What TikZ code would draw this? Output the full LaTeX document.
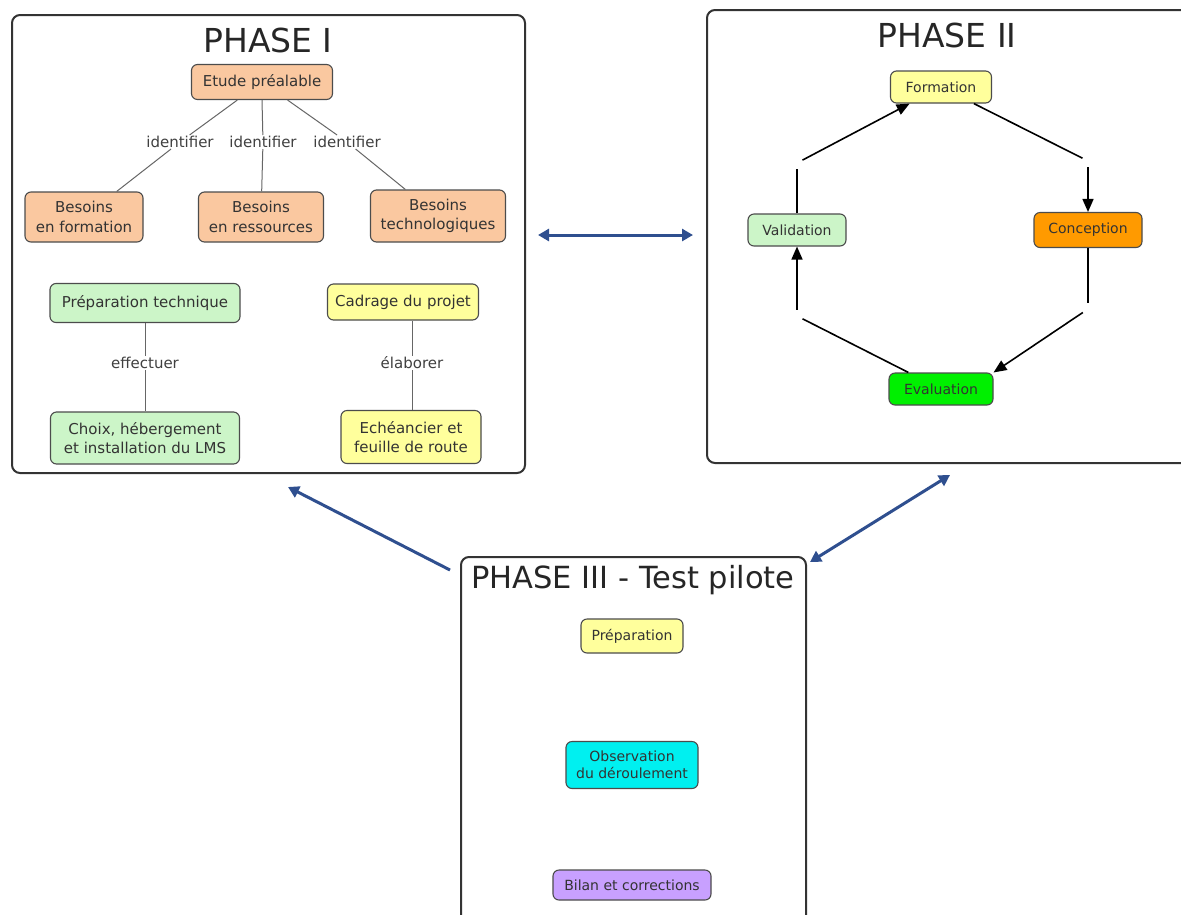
\documentclass[tikz,border=0pt]{standalone}
\usepackage{fontspec}
\setmainfont{DejaVu Sans}
\usetikzlibrary{arrows.meta}
\definecolor{peach}{HTML}{FAC8A0}
\definecolor{lgreen}{HTML}{CCF5C8}
\definecolor{lyellow}{HTML}{FFFF9C}
\definecolor{corange}{HTML}{FF9A00}
\definecolor{cgreen}{HTML}{00F000}
\definecolor{ccyan}{HTML}{00F0F0}
\definecolor{cviolet}{HTML}{C8A0FF}
\definecolor{frame}{HTML}{333333}
\definecolor{bluearr}{HTML}{2F4F8F}
\tikzset{
  phasebox/.style={draw=frame, line width=2pt, rounded corners=8pt, fill=white},
  title/.style={font=\fontsize{33}{37}\selectfont, text=black!85},
  concept/.style={draw=black!70, line width=1.1pt, rounded corners=6pt, align=center,
     font=\fontsize{15}{19.5}\selectfont, inner sep=0pt, text=black!80},
  small/.style={concept, font=\fontsize{14}{17}\selectfont},
  linklab/.style={font=\fontsize{15}{17}\selectfont, text=black!75, fill=white, inner sep=1pt},
  link/.style={draw=black!60, line width=1pt},
  cyc/.style={draw=black, line width=1.6pt},
  cycarr/.style={cyc, -{Triangle[length=13pt,width=11pt]}},
  gap/.style={circle, minimum size=12pt, inner sep=0pt},
  bigarr/.style={draw=bluearr, line width=3pt, {Triangle[length=11pt,width=12pt]}-{Triangle[length=11pt,width=12pt]}},
  onearr/.style={draw=bluearr, line width=3pt, -{Triangle[length=11pt,width=12pt]}}
}
\begin{document}
\begin{tikzpicture}[x=1pt,y=-1pt]
\useasboundingbox (0,0) rectangle (1181,914);
\fill[white] (0,0) rectangle (1181,914);
\clip (0,0) rectangle (1181,914);

% ---------- PHASE I ----------
\draw[phasebox] (12,15) rectangle (525,473);
\node[title] (t1) at (268,40) {PHASE I};
\node[concept, fill=peach, minimum width=141pt, minimum height=35pt] (etude) at (262,82) {Etude préalable};
\node[concept, fill=peach, minimum width=118pt, minimum height=50pt] (bf) at (84,217) {Besoins\\en formation};
\node[concept, fill=peach, minimum width=125pt, minimum height=50pt] (br) at (261,217) {Besoins\\en ressources};
\node[concept, fill=peach, minimum width=135pt, minimum height=52pt] (bt) at (438,216) {Besoins\\technologiques};
\node[linklab] (i1) at (180,142) {identifier};
\node[linklab] (i2) at (263,142) {identifier};
\node[linklab] (i3) at (347,142) {identifier};
\draw[link] (etude) -- (i1) (i1) -- (bf);
\draw[link] (etude.south) -- (i2) (i2) -- (br);
\draw[link] (etude) -- (i3) (i3) -- (bt);

\node[concept, fill=lgreen, minimum width=190pt, minimum height=39pt] (prep) at (145,303) {Préparation technique};
\node[concept, fill=lyellow, minimum width=151pt, minimum height=36pt] (cad) at (403,302) {Cadrage du projet};
\node[concept, fill=lgreen, minimum width=189pt, minimum height=52pt] (choix) at (145,438) {Choix, hébergement\\et installation du LMS};
\node[concept, fill=lyellow, minimum width=140pt, minimum height=53pt] (ech) at (411,437) {Echéancier et\\feuille de route};
\node[linklab] (eff) at (145,363) {effectuer};
\node[linklab] (ela) at (412,363) {élaborer};
\draw[link] (prep) -- (eff) (eff) -- (choix);
\draw[link] (ela) -- (ela |- cad.south) (ela) -- (ela |- ech.north);

% ---------- PHASE II ----------
\draw[phasebox] (707,10) rectangle (1200,463);
\node[title] (t2) at (947,35) {PHASE II};
\node[small, fill=lyellow, minimum width=101pt, minimum height=32pt] (form) at (941,87) {Formation};
\node[small, fill=corange, minimum width=108pt, minimum height=35pt] (conc) at (1088,230) {Conception};
\node[small, fill=cgreen, minimum width=104pt, minimum height=32pt] (eval) at (941,389) {Evaluation};
\node[small, fill=lgreen, minimum width=98pt, minimum height=32pt] (val) at (797,230) {Validation};
\node[gap] (g1) at (797,163) {};
\node[gap] (g2) at (1088,161) {};
\node[gap] (g3) at (1088,309) {};
\node[gap] (g4) at (797,316) {};
\draw[cyc] (val) -- (g1);
\draw[cycarr] (g1) -- (form);
\draw[cyc] (form) -- (g2);
\draw[cycarr] (g2) -- (conc);
\draw[cyc] (conc) -- (g3);
\draw[cycarr] (g3) -- (eval.north east);
\draw[cyc] (eval) -- (g4);
\draw[cycarr] (g4) -- (val);

% ---------- PHASE III ----------
\draw[phasebox] (461,557) rectangle (806,930);
\node[title, font=\fontsize{30.5}{34}\selectfont] (t3) at (633,580) {PHASE III - Test pilote};
\node[small, fill=lyellow, minimum width=102pt, minimum height=34pt] (p3prep) at (632,636) {Préparation};
\node[small, fill=ccyan, minimum width=132pt, minimum height=47pt] (obs) at (632,765) {Observation\\du déroulement};
\node[small, fill=cviolet, minimum width=158pt, minimum height=30pt] (bilan) at (632,885) {Bilan et corrections};

% ---------- links between phases ----------
\coordinate (a1) at (538,235);
\coordinate (a2) at (693,235);
\coordinate (b1) at (450,570);
\coordinate (b2) at (288,487);
\coordinate (c1) at (950,475);
\coordinate (c2) at (810,562);
\draw[bigarr] (a1) -- (a2);
\draw[onearr] (b1) -- (b2);
\draw[bigarr] (c1) -- (c2);
\end{tikzpicture}
\end{document}
